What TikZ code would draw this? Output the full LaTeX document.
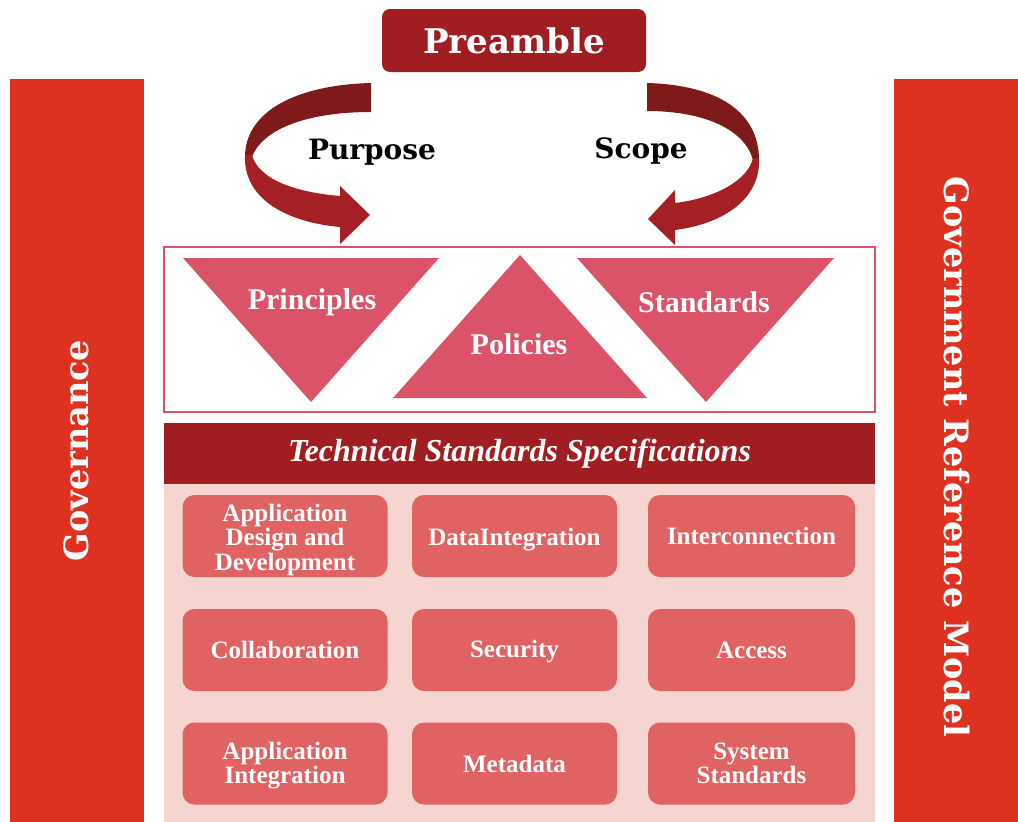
\documentclass[tikz,border=0pt]{standalone}
\usepackage{fontspec}
\setmainfont{Liberation Serif}
\newfontfamily\dv{DejaVu Serif}
\definecolor{barred}{HTML}{DE3120}
\definecolor{darkred}{HTML}{A01E22}
\definecolor{ribbondark}{HTML}{7E1A1A}
\definecolor{ribbonlight}{HTML}{A52024}
\definecolor{tripink}{HTML}{DA5369}
\definecolor{boxcoral}{HTML}{E06262}
\definecolor{panelpink}{HTML}{F6D4D0}
\tikzset{
  sidebar/.style={fill=barred, draw=none, minimum width=134, minimum height=743, inner sep=0},
  sidetext/.style={text=white, font=\dv\bfseries\fontsize{33.5}{36}\selectfont},
  gbox/.style={fill=boxcoral, draw=none, rounded corners=12, minimum width=205, minimum height=82, inner sep=0,
    text=white, align=center, font=\bfseries\fontsize{25}{24.5}\selectfont},
  gtext/.style={gbox, fill=none},
  trilabel/.style={text=white, font=\bfseries\fontsize{30}{32}\selectfont},
  toplabel/.style={text=black, font=\dv\bfseries\fontsize{28}{30}\selectfont},
}
\begin{document}
\begin{tikzpicture}[x=1pt,y=-1pt]
\useasboundingbox (0,0) rectangle (1018,822);
% side bars
\node[sidebar] (govbar) at (76.5,450.5) {};
\node[sidebar, minimum width=124] (grmbar) at (956,450.5) {};
\node[sidetext, rotate=90] (gov) at (govbar.center) {Governance};
\node[sidetext, rotate=-90] (grm) at (957,457) {Government Reference Model};
% preamble
\node[fill=darkred, rounded corners=8, minimum width=264, minimum height=63, inner sep=0,
  text=white, font=\dv\bfseries\fontsize{34}{36}\selectfont] (pre) at (514,40.5) {Preamble};
% left ribbon arrow
\fill[ribbondark] (371,83) .. controls (295,85) and (245,112) .. (245,157)
  -- (252,157) .. controls (262,130) and (305,112) .. (371,112) -- cycle;
\fill[ribbonlight] (245,155) .. controls (243,198) and (285,222) .. (340,227)
  -- (340,244) -- (370,215) -- (340,186) -- (340,196)
  .. controls (292,192) and (258,178) .. (252,155) -- cycle;
% right ribbon arrow
\fill[ribbondark] (647,83) .. controls (718,85) and (759,112) .. (759,160)
  -- (753,160) .. controls (745,130) and (705,111) .. (647,111) -- cycle;
\fill[ribbonlight] (759,158) .. controls (761,200) and (722,224) .. (675,230)
  -- (675,245) -- (648,219) -- (675,190) -- (675,203)
  .. controls (716,198) and (748,180) .. (753,158) -- cycle;
\node[toplabel] (purpose) at (372,152) {Purpose};
\node[toplabel] (scope) at (641,151) {Scope};
% frame with triangles
\node[draw=tripink, line width=2, minimum width=711, minimum height=165, inner sep=0] (frame) at (519.5,329.5) {};
\fill[tripink] (183,258) -- (439,258) -- (311,402) -- cycle;
\fill[tripink] (520,255) -- (647,398) -- (393,398) -- cycle;
\fill[tripink] (577,258) -- (834,258) -- (706,402) -- cycle;
\node[trilabel] (principles) at (312,302) {Principles};
\node[trilabel] (policies) at (519,344) {Policies};
\node[trilabel] (standards) at (704,302) {Standards};
% technical standards
\node[fill=panelpink, minimum width=711, minimum height=338, inner sep=0] (panel) at (519.5,653) {};
\node[fill=darkred, minimum width=711, minimum height=61, inner sep=0, text=white,
  font=\bfseries\itshape\fontsize{32}{34}\selectfont] (tss) at (519.5,453.5) {Technical Standards Specifications};
\node[gbox] (b11) at (285,536) {};
\node[gtext] (b11t) at (285,539.5) {Application\\Design and\\Development};
\node[gbox] (b12) at (514.5,536) {};
\node[gtext] (b12t) at (514.5,539.5) {DataIntegration};
\node[gbox, minimum width=207] (b13) at (751.5,536) {Interconnection};
\node[gbox] (b21) at (285,650) {Collaboration};
\node[gbox] (b22) at (514.5,650) {};
\node[gtext] (b22t) at (514.5,652) {Security};
\node[gbox, minimum width=207] (b23) at (751.5,650) {Access};
\node[gbox] (b31) at (285,763.5) {};
\node[gtext] (b31t) at (285,765.5) {Application\\Integration};
\node[gbox] (b32) at (514.5,763.5) {Metadata};
\node[gbox, minimum width=207] (b33) at (751.5,763.5) {System\\Standards};
\end{tikzpicture}
\end{document}
